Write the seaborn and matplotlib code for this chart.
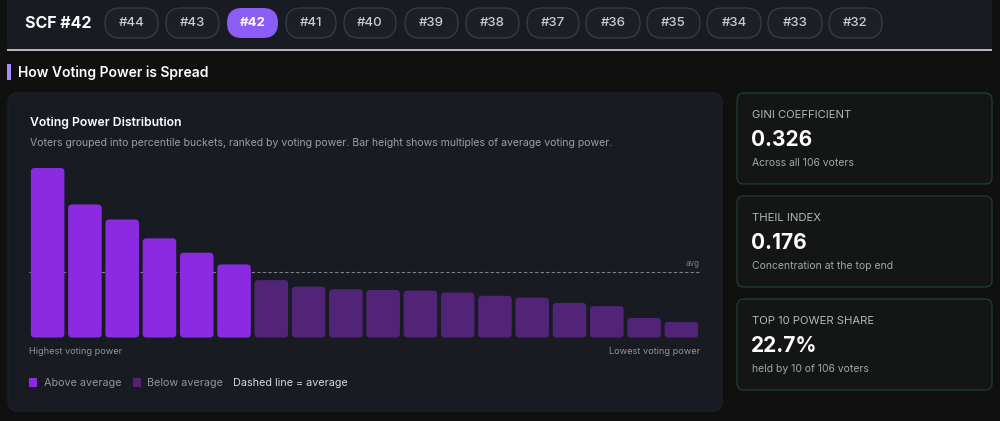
import numpy as np
import pandas as pd
import matplotlib
matplotlib.use("Agg")
import matplotlib.pyplot as plt
import seaborn as sns
from matplotlib.patches import FancyBboxPatch, Rectangle

# data
rounds = ["#44", "#43", "#42", "#41", "#40", "#39", "#38", "#37", "#36", "#35", "#34", "#33", "#32"]
active_round = "#42"
multiples = [2.60, 2.04, 1.81, 1.52, 1.30, 1.12, 0.88, 0.78, 0.74, 0.73, 0.72, 0.69,
             0.64, 0.61, 0.53, 0.48, 0.30, 0.24]
avg_level = 1.0
metric_names = ["GINI COEFFICIENT", "THEIL INDEX", "TOP 10 POWER SHARE"]
metric_values = ["0.326", "0.176", "22.7%"]
metric_notes = ["Across all 106 voters", "Concentration at the top end", "held by 10 of 106 voters"]

ABOVE = "#8a2be2"
BELOW = "#522478"
PAGE = "#101011"
PANEL = "#181b21"

sns.set_theme(style="dark")
plt.rcParams["font.family"] = ["Inter", "DejaVu Sans"]

fig = plt.figure(figsize=(10, 4.21), dpi=100, facecolor=PAGE)

# background axes in pixel units (x right, y down)
bg = fig.add_axes([0, 0, 1, 1])
bg.set_xlim(0, 1000)
bg.set_ylim(421, 0)
bg.axis("off")
bg.set_facecolor(PAGE)


def box(x0, y0, x1, y1, r, fc, ec="none", lw=0, z=1):
    p = FancyBboxPatch((x0, y0), x1 - x0, y1 - y0,
                       boxstyle=f"round,pad=0,rounding_size={r}",
                       fc=fc, ec=ec, lw=lw, zorder=z)
    bg.add_patch(p)


# top nav
box(7, -20, 992, 50, 6, PANEL)
bg.add_patch(Rectangle((7, 49), 985, 2, fc="#b4b6ba", ec="none", zorder=2))
bg.text(25, 24, "SCF #42", color="white", fontsize=11.5, fontweight="bold", va="center", ha="left")
pill_x = [105, 166, 227, 286, 344, 405, 466, 527, 586, 647, 707, 768, 829]
pill_w = [53, 53, 51, 50, 52, 53, 53, 52, 54, 53, 54, 54, 53]
for lab, x, w in zip(rounds, pill_x, pill_w):
    if lab == active_round:
        box(x, 8, x + w, 38, 15, "#8b5cf6", z=3)
        bg.text(x + w / 2, 23.5, lab, color="white", fontsize=9.5, fontweight="bold",
                ha="center", va="center", zorder=4)
    else:
        box(x, 8, x + w, 38, 15, "#1c1f26", ec="#3a3e46", lw=0.9, z=3)
        bg.text(x + w / 2, 23.5, lab, color="#c9ccd2", fontsize=9.5, fontweight="medium",
                ha="center", va="center", zorder=4)

# section title
bg.add_patch(Rectangle((7, 64), 3.5, 16, fc="#a78bfa", ec="none", zorder=2))
bg.text(18, 72.5, "How Voting Power is Spread", color="white", fontsize=10,
        fontweight="semibold", va="center", ha="left")

# chart card
box(8, 93, 722, 411, 10, PANEL, ec="#1f232a", lw=0.8)
bg.text(30, 123, "Voting Power Distribution", color="white", fontsize=8.8,
        fontweight="semibold", va="center", ha="left")
bg.text(30, 143, "Voters grouped into percentile buckets, ranked by voting power. "
        "Bar height shows multiples of average voting power.",
        color="#9a9ea6", fontsize=7.55, va="center", ha="left")
bg.text(29, 352, "Highest voting power", color="#8f939b", fontsize=6.6, va="center", ha="left")
bg.text(700, 352, "Lowest voting power", color="#8f939b", fontsize=6.6, va="center", ha="right")

# legend
bg.add_patch(Rectangle((29, 378), 8, 9, fc=ABOVE, ec="none", zorder=2))
bg.text(44, 383, "Above average", color="#8f939b", fontsize=7.8, va="center", ha="left")
bg.add_patch(Rectangle((133, 378), 8, 9, fc=BELOW, ec="none", zorder=2))
bg.text(147, 383, "Below average", color="#8f939b", fontsize=7.8, va="center", ha="left")
bg.text(233, 383, "Dashed line = average", color="#d4d7dc", fontsize=7.8, va="center", ha="left")

# metric cards
card_top = [93, 196, 299]
for name, val, note, y0 in zip(metric_names, metric_values, metric_notes, card_top):
    box(737, y0, 992, y0 + 91, 7, "#131615", ec="#1f3a2b", lw=1.0)
    bg.text(752, y0 + 22, name, color="#b4b8be", fontsize=8.1, va="center", ha="left")
    bg.text(751, y0 + 47, val, color="white", fontsize=15, fontweight="bold",
            va="center", ha="left")
    bg.text(752, y0 + 70, note, color="#a3a7ad", fontsize=7.5, va="center", ha="left")

# bar chart
df = pd.DataFrame({
    "bucket": [f"b{i}" for i in range(len(multiples))],
    "multiple": multiples,
})
df["group"] = np.where(df["multiple"] > avg_level, "Above average", "Below average")

base_px = 337.5
unit_px = 65.2
ymax = 2.7
top_px = base_px - ymax * unit_px
ax = fig.add_axes([29 / 1000, (421 - base_px) / 421, 671 / 1000, (base_px - top_px) / 421])
sns.barplot(data=df, x="bucket", y="multiple", hue="group", order=df["bucket"],
            palette={"Above average": ABOVE, "Below average": BELOW},
            dodge=False, width=0.9, legend=False, ax=ax, saturation=1)
ax.set_xlim(-0.5, len(multiples) - 0.5)
ax.set_ylim(0, ymax)

# swap square bars for rounded ones
aspect = (1 / unit_px) / (1 / (671 / len(multiples)))
for p in list(ax.patches):
    x, w, h = p.get_x(), p.get_width(), p.get_height()
    if h <= 0:
        p.remove()
        continue
    rp = FancyBboxPatch((x, 0), w, h, boxstyle="round,pad=0,rounding_size=0.1",
                        mutation_aspect=aspect, fc=p.get_facecolor(), ec="none", zorder=2)
    p.remove()
    ax.add_patch(rp)

ax.axhline(avg_level, color="#7d8188", lw=0.8, ls=(0, (3, 2)), zorder=1)
ax.text(len(multiples) - 0.5, avg_level + 0.06, "avg", color="#7d8188", fontsize=5.8,
        ha="right", va="bottom")
ax.set_facecolor("none")
ax.set_xlabel("")
ax.set_ylabel("")
ax.set_xticks([])
ax.set_yticks([])
for s in ax.spines.values():
    s.set_visible(False)
ax.grid(False)

fig.savefig("out.png", dpi=100, facecolor=PAGE)
